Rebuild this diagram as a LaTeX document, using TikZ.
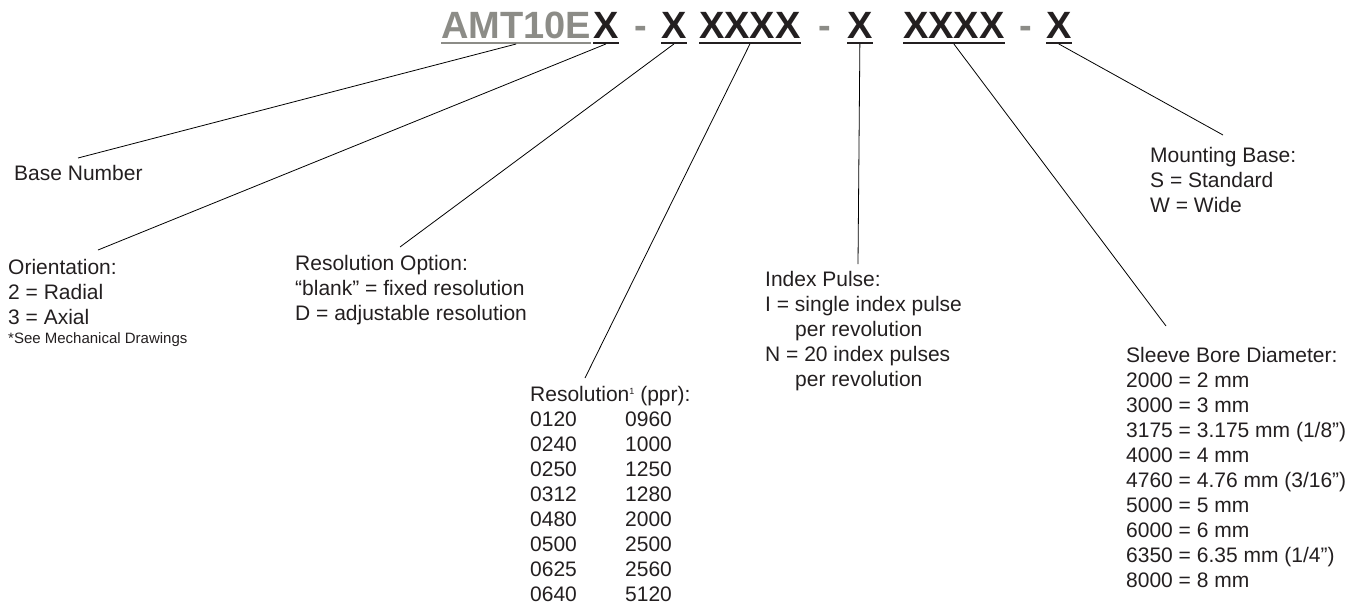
\documentclass[tikz,border=0pt]{standalone}
\usepackage{fontspec}
\setmainfont{Liberation Sans}
\usepackage{tikz}

\definecolor{txtdark}{HTML}{231F20}
\definecolor{codegray}{HTML}{8C8C87}

\tikzset{
  code/.style={anchor=base west, inner sep=0pt, text=txtdark,
    font=\fontsize{38}{38}\bfseries\selectfont},
  lbl/.style={anchor=north west, inner sep=0pt, align=left, text=txtdark,
    font=\fontsize{21}{25}\selectfont},
  lead/.style={line width=0.8pt, draw=black},
  uline/.style={line width=2pt, draw=txtdark}
}

\begin{document}
\begin{tikzpicture}[x=1pt, y=-1pt]
  \useasboundingbox (0,0) rectangle (1358,605);

  % part number
  \node[code, text=codegray] (amt) at (441,38) {AMT10E};
  \node[code] (xa) at (593,38) {X};
  \node[code, text=codegray] (da) at (634,38) {-};
  \node[code] (xb) at (661,38) {X};
  \node[code] (xxa) at (699,38) {XXXX};
  \node[code, text=codegray] (db) at (818,38) {-};
  \node[code] (xc) at (847,38) {X};
  \node[code] (xxb) at (903,38) {XXXX};
  \node[code, text=codegray] (dc) at (1019,38) {-};
  \node[code] (xd) at (1046,38) {X};

  \draw[uline, draw=codegray] ([yshift=-5pt]amt.base west) -- ([yshift=-5pt]amt.base east);
  \foreach \n in {xa,xb,xxa,xc,xxb,xd}
    \draw[uline] ([yshift=-5pt]\n.base west) -- ([yshift=-5pt]\n.base east);

  % options
  \node[lbl] (base) at (14,165) {Base Number};
  \node[lbl] (orient) at (8,259) {Orientation:\\ 2 = Radial\\ 3 = Axial\\[-6pt]
    {\fontsize{15}{18}\selectfont *See Mechanical Drawings}};
  \node[lbl] (resopt) at (295,255) {Resolution Option:\\ “blank” = fixed resolution\\
    D = adjustable resolution};
  \node[lbl] (res) at (530,384) {\begin{tabular}{@{}p{95pt}@{}l@{}}
    \multicolumn{2}{@{}l}{Resolution\raisebox{7pt}{\fontsize{9}{9}\selectfont 1} (ppr):}\\
    0120 & 0960\\ 0240 & 1000\\ 0250 & 1250\\ 0312 & 1280\\
    0480 & 2000\\ 0500 & 2500\\ 0625 & 2560\\ 0640 & 5120
  \end{tabular}};
  \node[lbl] (index) at (765,271) {Index Pulse:\\ I = single index pulse\\
    \hspace*{30pt}per revolution\\ N = 20 index pulses\\ \hspace*{30pt}per revolution};
  \node[lbl] (sleeve) at (1126,347) {Sleeve Bore Diameter:\\ 2000 = 2 mm\\ 3000 = 3 mm\\
    3175 = 3.175 mm (1/8”)\\ 4000 = 4 mm\\ 4760 = 4.76 mm (3/16”)\\ 5000 = 5 mm\\
    6000 = 6 mm\\ 6350 = 6.35 mm (1/4”)\\ 8000 = 8 mm};
  \node[lbl] (mount) at (1150,147) {Mounting Base:\\ S = Standard\\ W = Wide};

  % leaders
  \draw[lead] ([yshift=-6pt]amt.base) -- ([xshift=64pt,yshift=7pt]base.north west);
  \draw[lead] ([yshift=-6pt]xa.base) -- ([xshift=90pt,yshift=9pt]orient.north west);
  \draw[lead] ([yshift=-6pt]xb.base) -- ([xshift=105pt,yshift=8pt]resopt.north west);
  \draw[lead] ([yshift=-6pt]xxa.base) -- ([xshift=55pt,yshift=6pt]res.north west);
  \draw[lead] ([yshift=-6pt]xc.base) -- ([xshift=93pt,yshift=7pt]index.north west);
  \draw[lead] ([yshift=-6pt]xxb.base) -- ([xshift=40pt,yshift=21pt]sleeve.north west);
  \draw[lead] ([yshift=-6pt]xd.base) -- ([xshift=73pt,yshift=12pt]mount.north west);
\end{tikzpicture}
\end{document}
